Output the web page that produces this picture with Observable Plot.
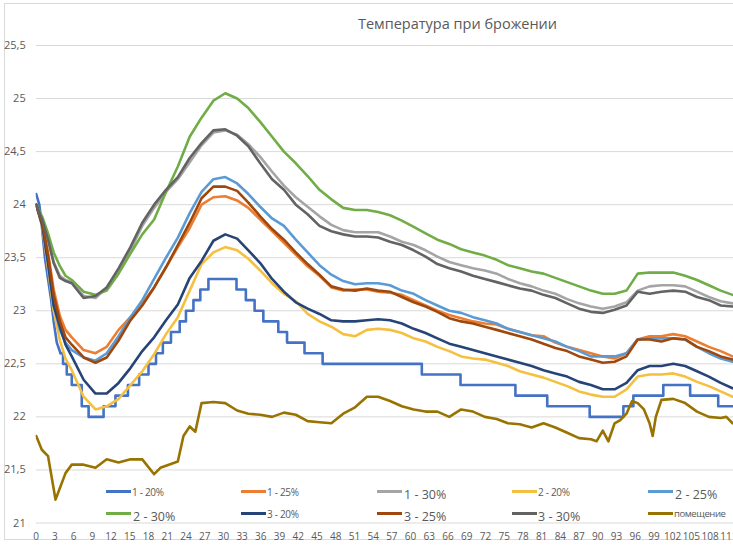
<!DOCTYPE html>
<html>
<head>
<meta charset="utf-8">
<script src="https://cdn.jsdelivr.net/npm/d3@7"></script>
<script src="https://cdn.jsdelivr.net/npm/@observablehq/plot@0.6"></script>
<style>
  body { margin: 0; background: #fff; }
  #wrap { position: relative; width: 733px; height: 549px; overflow: hidden; background: #fff; font-family: "Open Sans", "Noto Sans", sans-serif; }
  #frame { position: absolute; left: 4px; top: 3px; width: 900px; height: 537px; border: 1px solid #d9d9d9; box-sizing: border-box; }
  #title { position: absolute; left: 0; width: 915px; top: 14px; text-align: center; font-size: 14.5px; color: #595959; }
  #chart { position: absolute; left: 0; top: 0; }
  .sw { position: absolute; height: 3px; }
  .lb { position: absolute; color: #595959; white-space: nowrap; line-height: 1; }
</style>
</head>
<body>
<div id="wrap">
  <div id="frame"></div>
  <div id="chart"></div>
  <div id="title">Температура при брожении</div>
  <div id="legend"></div>
</div>
<script>
// ---- data ----
const hours = [0,1,1.9,2.8,3.8,4.7,5.7,7.6,9.5,11.3,13.2,15.1,17,18.9,20.8,22.7,24.6,26.5,28.4,30.3,32.2,34,35.9,37.8,39.7,41.6,43.5,45.4,47.3,49.2,51.1,53,54.8,56.7,58.6,60.5,62.4,64.3,66.2,68.1,70,71.9,73.8,75.6,77.5,79.4,81.3,83.2,85.1,87,88.9,90.8,92.7,94.6,96.4,98.3,100.2,102.1,104,105.9,107.8,109.7,111.6];

const t1_20_hours = [0,0.5,0.9,1.4,1.9,2.4,2.8,3.3,3.9,4.3,4.9,5.7,7.3,8.4,10.8,12.7,14.7,16.5,18.0,19.2,20.3,21.6,23.0,24.0,25.2,26.3,27.6,32.1,33.6,35.0,36.4,38.8,40.2,43.0,45.9,61.8,68.0,76.8,81.9,88.7,94.1,95.7,100.5,104.8,109.3,111.7];
const t1_20 = [24.1,24.0,23.8,23.5,23.3,23.1,22.9,22.7,22.6,22.5,22.4,22.3,22.1,22.0,22.1,22.2,22.3,22.4,22.5,22.6,22.7,22.8,22.9,23.0,23.1,23.2,23.3,23.2,23.1,23.0,22.9,22.8,22.7,22.6,22.5,22.4,22.3,22.2,22.1,22.0,22.1,22.2,22.3,22.2,22.1,22.1];

const t1_25 = [24.0,23.82,23.55,23.2,22.95,22.82,22.75,
  22.63,22.6,22.66,22.82,22.94,23.07,23.22,23.41,23.6,23.78,
  24.0,24.07,24.08,24.04,23.97,23.86,23.75,23.64,23.53,23.42,
  23.33,23.22,23.19,23.2,23.2,23.18,23.17,23.15,23.1,23.05,
  23.0,22.96,22.93,22.9,22.88,22.87,22.83,22.8,22.77,22.76,
  22.7,22.66,22.63,22.6,22.57,22.55,22.6,22.73,22.76,22.76,
  22.78,22.76,22.71,22.66,22.62,22.57];

const t1_30 = [24.0,23.86,23.68,23.46,23.33,23.29,23.27,
  23.14,23.12,23.22,23.38,23.57,23.8,23.97,24.12,24.24,24.4,
  24.56,24.68,24.7,24.66,24.57,24.45,24.31,24.18,24.07,23.98,
  23.89,23.81,23.76,23.74,23.74,23.74,23.7,23.65,23.62,23.57,
  23.51,23.46,23.43,23.4,23.38,23.35,23.3,23.26,23.23,23.19,
  23.16,23.11,23.07,23.04,23.02,23.04,23.08,23.19,23.23,23.24,
  23.24,23.23,23.18,23.13,23.09,23.07];

const t2_20 = [24.0,23.78,23.4,23.0,22.72,22.55,22.44,
  22.19,22.07,22.1,22.17,22.3,22.43,22.59,22.78,22.94,23.19,
  23.44,23.55,23.6,23.57,23.49,23.38,23.26,23.16,23.09,22.97,
  22.9,22.85,22.78,22.76,22.82,22.83,22.82,22.79,22.74,22.71,
  22.66,22.62,22.57,22.55,22.54,22.51,22.48,22.43,22.4,22.37,
  22.33,22.29,22.24,22.21,22.19,22.19,22.26,22.38,22.4,22.4,
  22.41,22.38,22.33,22.29,22.24,22.19];

const t2_25 = [24.0,23.8,23.45,23.05,22.82,22.7,22.63,
  22.56,22.53,22.6,22.76,22.94,23.1,23.3,23.5,23.69,23.92,
  24.12,24.24,24.26,24.2,24.1,23.98,23.87,23.8,23.67,23.55,
  23.43,23.34,23.28,23.25,23.26,23.26,23.24,23.19,23.16,23.1,
  23.05,23.0,22.98,22.94,22.91,22.88,22.83,22.8,22.77,22.74,
  22.71,22.66,22.62,22.57,22.57,22.57,22.6,22.73,22.74,22.74,
  22.74,22.73,22.66,22.6,22.55,22.52];

const t2_30 = [24.0,23.88,23.73,23.55,23.42,23.33,23.29,
  23.18,23.15,23.19,23.35,23.54,23.72,23.86,24.12,24.36,24.64,
  24.82,24.98,25.05,25.0,24.91,24.78,24.64,24.5,24.39,24.27,
  24.14,24.05,23.97,23.95,23.95,23.93,23.9,23.85,23.79,23.73,
  23.67,23.63,23.58,23.55,23.52,23.48,23.43,23.4,23.37,23.35,
  23.31,23.27,23.23,23.19,23.16,23.16,23.19,23.35,23.36,23.36,
  23.36,23.33,23.29,23.24,23.19,23.15];

const t3_20 = [24.0,23.8,23.45,23.05,22.85,22.68,22.57,
  22.35,22.22,22.22,22.32,22.46,22.62,22.75,22.91,23.06,23.31,
  23.47,23.66,23.72,23.68,23.57,23.45,23.3,23.18,23.08,23.02,
  22.97,22.91,22.9,22.9,22.91,22.92,22.91,22.88,22.83,22.79,
  22.74,22.69,22.66,22.63,22.6,22.57,22.54,22.51,22.48,22.44,
  22.41,22.38,22.33,22.3,22.26,22.26,22.32,22.44,22.48,22.48,
  22.5,22.48,22.43,22.38,22.32,22.27];

const t3_25 = [24.0,23.82,23.52,23.15,22.9,22.75,22.68,
  22.56,22.51,22.56,22.72,22.91,23.05,23.22,23.41,23.62,23.83,
  24.06,24.17,24.17,24.13,24.02,23.89,23.77,23.67,23.55,23.44,
  23.34,23.23,23.2,23.19,23.21,23.19,23.18,23.13,23.08,23.04,
  22.99,22.93,22.9,22.88,22.85,22.82,22.79,22.76,22.73,22.69,
  22.65,22.62,22.57,22.54,22.51,22.52,22.57,22.73,22.73,22.71,
  22.74,22.73,22.66,22.62,22.57,22.54];

const t3_30 = [24.0,23.85,23.67,23.45,23.31,23.28,23.26,
  23.12,23.14,23.22,23.4,23.6,23.83,24.0,24.14,24.26,24.44,
  24.58,24.7,24.71,24.65,24.55,24.39,24.24,24.14,24.0,23.91,
  23.8,23.75,23.72,23.7,23.7,23.69,23.65,23.62,23.57,23.51,
  23.44,23.4,23.37,23.33,23.3,23.27,23.24,23.21,23.19,23.15,
  23.12,23.07,23.02,22.99,22.98,23.01,23.05,23.18,23.16,23.18,
  23.19,23.18,23.13,23.1,23.05,23.04];

const roomHours = [0,0.9,1.9,3.1,3.8,4.7,5.7,7.6,9.5,11.3,13.2,15.1,17,18.9,19.9,20.8,22.7,23.6,24.6,25.5,26.5,28.4,30.3,32.2,34,35.9,37.8,39.7,41.6,43.5,45.4,47.3,49.2,51.1,53,54.8,56.7,58.6,60.5,62.4,64.3,66.2,68.1,70,71.9,73.8,75.6,77.5,79.4,81.3,83.2,85.1,87,88.9,89.8,90.8,91.7,92.7,93.6,94.6,95.5,96.4,97.4,98.3,98.8,99.3,100.2,102.1,104,105.9,107.8,109.7,110.6,111.6];
const roomTemps = [21.82,21.69,21.63,21.22,21.33,21.47,21.55,21.55,21.52,21.6,21.57,21.6,21.6,21.46,21.52,21.54,21.58,21.82,21.91,21.86,22.13,22.14,22.13,22.06,22.03,22.02,22.0,22.04,22.02,21.96,21.95,21.94,22.03,22.09,22.19,22.19,22.15,22.1,22.07,22.05,22.05,22.0,22.07,22.05,22.0,21.98,21.94,21.93,21.9,21.94,21.9,21.85,21.8,21.79,21.77,21.87,21.77,21.94,21.97,22.03,22.15,22.13,22.07,21.94,21.82,22.0,22.16,22.17,22.13,22.05,22.0,21.99,22.0,21.94];

const seriesNames = ["1 - 20%","1 - 25%","1 - 30%","2 - 20%","2 - 25%","2 - 30%","3 - 20%","3 - 25%","3 - 30%","помещение"];
const yTicks = [21,21.5,22,22.5,23,23.5,24,24.5,25,25.5];
const xTicks = d3.range(0, 112, 3);

// ---- styles ----
const colors = ["#4472C4","#ED7D31","#A5A5A5","#F5C040","#5B9BD5","#70AD47","#264478","#9E480E","#636363","#997300"];

const toRows = (xs, ys) => xs.map((x, i) => ({x, y: ys[i]}));
const rows1_20 = toRows(t1_20_hours, t1_20);
const seriesData = [
  rows1_20,
  toRows(hours, t1_25),
  toRows(hours, t1_30),
  toRows(hours, t2_20),
  toRows(hours, t2_25),
  toRows(hours, t2_30),
  toRows(hours, t3_20),
  toRows(hours, t3_25),
  toRows(hours, t3_30),
  toRows(roomHours, roomTemps)
];

const lineOpts = (i) => ({x: "x", y: "y", stroke: colors[i], strokeWidth: 2.6, strokeLinejoin: "round", clip: true});

const lineMarks = [];
seriesData.forEach((rows, i) => {
  if (i === 0) {
    // steep initial descent drawn straight, then the 0.1-quantised readings as steps
    lineMarks.push(Plot.line(rows.filter(d => d.x <= 3.9), {...lineOpts(i), curve: "linear"}));
    lineMarks.push(Plot.line(rows.filter(d => d.x >= 3.9), {...lineOpts(i), curve: "step-after"}));
  } else {
    lineMarks.push(Plot.line(rows, {...lineOpts(i), curve: "linear"}));
  }
});

const chart = Plot.plot({
  width: 733,
  height: 549,
  marginLeft: 35.7,
  marginRight: 0,
  marginTop: 45,
  marginBottom: 26.5,
  style: {fontFamily: "'Open Sans', 'Noto Sans', sans-serif", background: "transparent", overflow: "hidden"},
  x: {domain: [0, 111.75]},
  y: {domain: [21, 25.5]},
  marks: [
    Plot.gridY(yTicks, {stroke: "#d9d9d9", strokeOpacity: 1, strokeWidth: 1}),
    Plot.axisY(yTicks, {tickSize: 0, tickPadding: 10.5, fontSize: 11, color: "#595959",
      tickFormat: d => String(d).replace(".", ","), label: null}),
    Plot.axisX(xTicks, {tickSize: 0, tickPadding: 10, fontSize: 10, color: "#595959", label: null}),
    ...lineMarks
  ]
});
document.getElementById("chart").appendChild(chart);

// ---- legend (HTML overlay) ----
const legendPos = [
  {sx: 106, sy: 491, tx: 132, ty: 487, fs: 10, ls: -0.3},
  {sx: 241, sy: 491, tx: 267, ty: 487, fs: 10, ls: -0.3},
  {sx: 377, sy: 491, tx: 404, ty: 489, fs: 12.5, ls: 0},
  {sx: 512, sy: 491, tx: 538, ty: 487, fs: 10, ls: -0.3},
  {sx: 648, sy: 491, tx: 675, ty: 489, fs: 12.5, ls: 0},
  {sx: 106, sy: 513, tx: 133, ty: 511, fs: 12.5, ls: 0},
  {sx: 241, sy: 513, tx: 267, ty: 509, fs: 10, ls: -0.3},
  {sx: 377, sy: 513, tx: 404, ty: 511, fs: 12.5, ls: 0},
  {sx: 512, sy: 513, tx: 538, ty: 511, fs: 12.5, ls: 0},
  {sx: 648, sy: 513, tx: 674, ty: 509, fs: 9.5, ls: -0.4}
];
const legend = document.getElementById("legend");
seriesNames.forEach((name, i) => {
  const p = legendPos[i];
  const sw = document.createElement("div");
  sw.className = "sw";
  sw.style.left = p.sx + "px";
  sw.style.top = (p.sy - 1.5) + "px";
  sw.style.width = "25px";
  sw.style.background = colors[i];
  legend.appendChild(sw);
  const lb = document.createElement("div");
  lb.className = "lb";
  lb.style.left = p.tx + "px";
  lb.style.top = p.ty + "px";
  lb.style.fontSize = p.fs + "px";
  lb.style.letterSpacing = p.ls + "px";
  lb.textContent = name;
  legend.appendChild(lb);
});
</script>
</body>
</html>
